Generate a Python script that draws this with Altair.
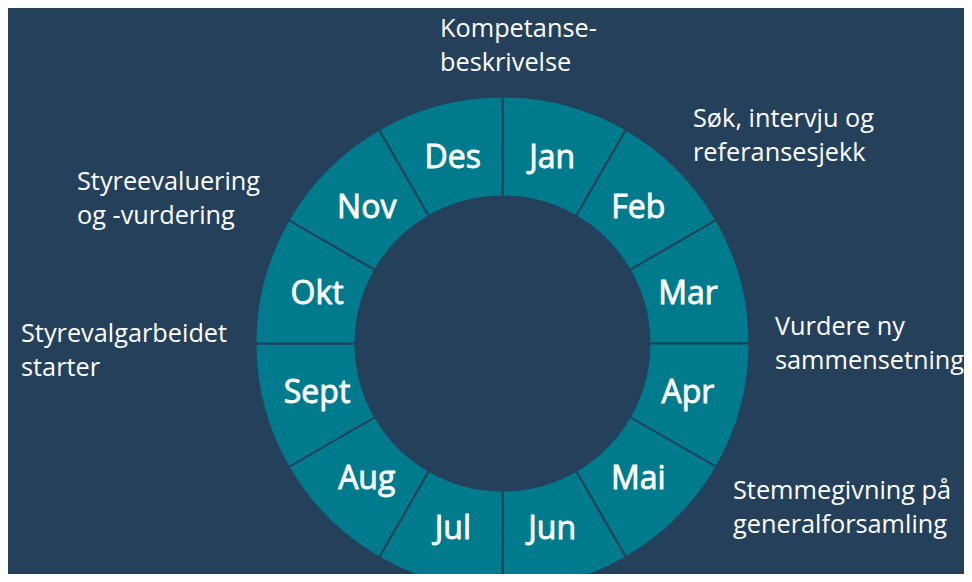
import altair as alt
import pandas as pd

# --- data ---
months = ["Jan", "Feb", "Mar", "Apr", "Mai", "Jun", "Jul", "Aug", "Sept", "Okt", "Nov", "Des"]
share = [1] * 12

notes = [
    "Kompetanse-\nbeskrivelse",
    "Søk, intervju og\nreferansesjekk",
    "Vurdere ny\nsammensetning",
    "Stemmegivning på\ngeneralforsamling",
    "Styrevalgarbeidet\nstarter",
    "Styreevaluering\nog -vurdering",
]

# --- layout (pixels in chart space) ---
W, H = 956, 566
CX, CY = 494.5, 335.5
R_OUT, R_IN, R_LABEL = 247, 147, 192
note_x = [432, 685, 767, 725, 13, 69]
note_y = [29, 119, 327, 491, 334, 182]

BG = "#25405A"
TEAL = "#007B8D"

ring = pd.DataFrame({"month": months, "v": share, "i": list(range(12))})
notes_df = pd.DataFrame({"note": notes, "nx": note_x, "ny": note_y})

base = alt.Chart(ring).encode(
    theta=alt.Theta("v:Q", stack=True),
    order=alt.Order("i:Q", sort="ascending"),
    x=alt.value(CX),
    y=alt.value(CY),
)

arcs = base.mark_arc(
    innerRadius=R_IN, outerRadius=R_OUT, fill=TEAL, stroke=BG, strokeWidth=2
)

labels = base.mark_text(
    radius=R_LABEL, font="Open Sans", fontSize=32, fontWeight=400,
    color="white", stroke="white", strokeWidth=0.8,
    align="center", baseline="middle",
).encode(text="month:N")

annotations = alt.Chart(notes_df).mark_text(
    font="Open Sans", fontSize=25.3, color="white", align="left",
    baseline="alphabetic", lineBreak="\n", lineHeight=34,
).encode(
    x=alt.X("nx:Q", scale=None, axis=None),
    y=alt.Y("ny:Q", scale=None, axis=None),
    text="note:N",
)

chart = alt.layer(arcs, labels, annotations).properties(
    width=W, height=H, background=BG, padding=0,
    autosize=alt.AutoSizeParams(type="none"),
).configure_view(stroke=None)

chart.save("out.html", embed_options={"renderer": "svg", "actions": False})
